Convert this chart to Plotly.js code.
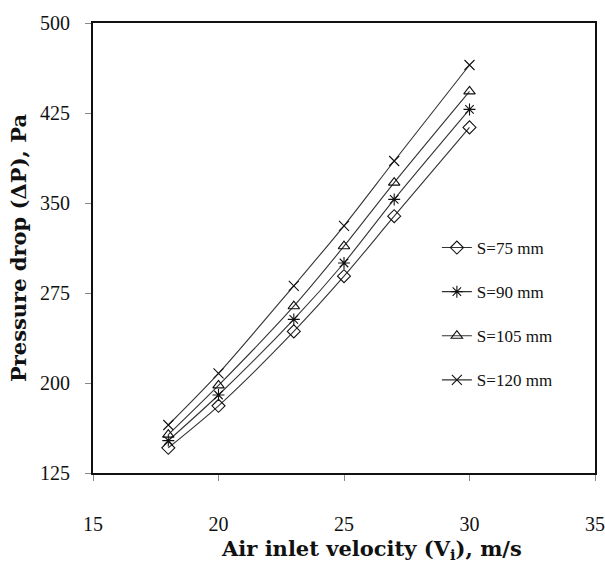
<!DOCTYPE html>
<html>
<head>
<meta charset="utf-8">
<script src="https://cdn.plot.ly/plotly-3.0.1.min.js"></script>
<style>body{margin:0;padding:0;background:#fff;}#chart{width:605px;height:569px;}</style>
</head>
<body>
<div id="chart"></div>
<script>
var velocity = [18, 20, 23, 25, 27, 30];
var s75 = [146, 181, 243, 289, 339, 413];
var s90 = [152, 190, 253, 300, 353, 428];
var s105 = [157, 198, 264, 314, 367, 443];
var s120 = [165, 208, 281, 331, 385, 465];
var seriesNames = ['S=75 mm', 'S=90 mm', 'S=105 mm', 'S=120 mm'];
var seriesValues = [s75, s90, s105, s120];
var markerSymbols = ['diamond-open', 'asterisk-open', 'triangle-up-open', 'x-thin-open'];
var xTicks = [15, 20, 25, 30, 35];
var yTicks = [125, 200, 275, 350, 425, 500];

var traces = seriesValues.map(function(vals, i) {
  return {
    x: velocity, y: vals, name: seriesNames[i], type: 'scatter', mode: 'lines+markers',
    legendgroup: 'g' + i,
    line: {color: '#333', width: 1.1, shape: 'spline', smoothing: 0.8},
    marker: {symbol: markerSymbols[i], size: 10, color: '#111', line: {color: '#111', width: 1.1}}
  };
});

var fontFam = '"Liberation Serif", "Times New Roman", serif';
var titleFam = '"DejaVu Serif", "Liberation Serif", serif';
var layout = {
  width: 605, height: 569,
  margin: {l: 93, r: 10, t: 23, b: 96},
  paper_bgcolor: '#fff', plot_bgcolor: '#fff',
  font: {family: fontFam, color: '#111', size: 16},
  showlegend: true,
  legend: {x: 0.685, y: 0.54, xanchor: 'left', yanchor: 'top', bgcolor: 'rgba(0,0,0,0)',
    font: {family: fontFam, size: 17, color: '#111'}, tracegroupgap: 19},
  xaxis: {
    range: [15, 35], tickvals: xTicks, ticktext: xTicks.map(String),
    showgrid: false, zeroline: false, showline: true, mirror: true, linecolor: '#111', linewidth: 2,
    ticks: 'outside', ticklen: 6, tickcolor: '#888', tickwidth: 1, ticklabelstandoff: 26,
    tickfont: {family: fontFam, size: 20, color: '#111'}
  },
  yaxis: {
    range: [125, 500], tickvals: yTicks, ticktext: yTicks.map(String),
    showgrid: false, zeroline: false, showline: true, mirror: true, linecolor: '#111', linewidth: 2,
    ticks: 'outside', ticklen: 6, tickcolor: '#888', tickwidth: 1, ticklabelstandoff: 11,
    tickfont: {family: fontFam, size: 20, color: '#111'},
    title: {text: '<b>Pressure drop (ΔP), Pa</b>', font: {family: titleFam, size: 21, color: '#111'}, standoff: 8}
  },
  annotations: [{
    text: '<b>Air inlet velocity (V<sub>i</sub>), m/s</b>', xref: 'paper', yref: 'paper',
    x: 0.555, y: -0.171, xanchor: 'center', yanchor: 'middle', showarrow: false,
    font: {family: titleFam, size: 21, color: '#111'}
  }]
};
Plotly.newPlot('chart', traces, layout, {displayModeBar: false, staticPlot: true});
</script>
</body>
</html>
